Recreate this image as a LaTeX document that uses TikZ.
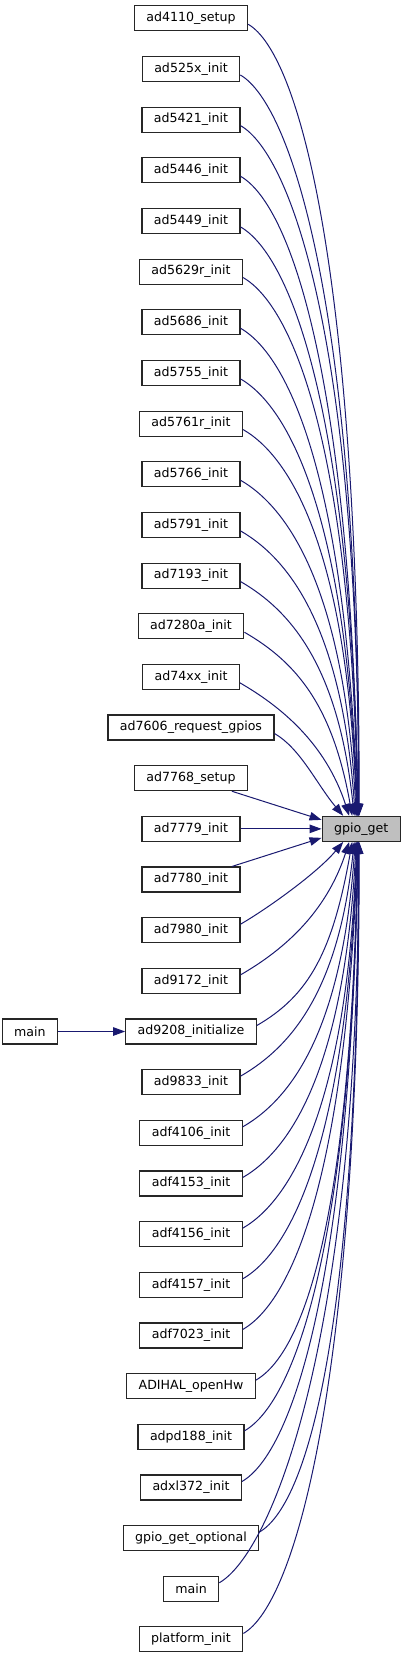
\documentclass[tikz,border=0pt]{standalone}
\usepackage{fontspec}
\setmainfont{DejaVu Sans}
\usepackage{xcolor}
\usepackage{tikz}
\usetikzlibrary{arrows.meta,positioning}
\definecolor{callblue}{RGB}{25,25,112}
\definecolor{curgrey}{RGB}{191,191,191}
\tikzset{
  fnbox/.style={draw=black!85, line width=1.1pt, fill=white, minimum height=25pt, inner xsep=12pt, inner ysep=2pt},
  curbox/.style={fnbox, fill=curgrey},
  call/.style={-{Triangle[length=12pt,width=8.5pt]}, callblue, line width=1pt},
}

\begin{document}
\begin{tikzpicture}[font=\fontsize{12.6}{15}\selectfont, node distance=24.56pt]
  \useasboundingbox (0,0) rectangle (405pt,-1659pt);
  \node[fnbox] (ad4110) at (191pt,-18.3pt) {ad4110\_setup};
  \node[fnbox, below=of ad4110] (ad525x) {ad525x\_init};
  \node[fnbox, below=of ad525x] (ad5421) {ad5421\_init};
  \node[fnbox, below=of ad5421] (ad5446) {ad5446\_init};
  \node[fnbox, below=of ad5446] (ad5449) {ad5449\_init};
  \node[fnbox, below=of ad5449] (ad5629r) {ad5629r\_init};
  \node[fnbox, below=of ad5629r] (ad5686) {ad5686\_init};
  \node[fnbox, below=of ad5686] (ad5755) {ad5755\_init};
  \node[fnbox, below=of ad5755] (ad5761r) {ad5761r\_init};
  \node[fnbox, below=of ad5761r] (ad5766) {ad5766\_init};
  \node[fnbox, below=of ad5766] (ad5791) {ad5791\_init};
  \node[fnbox, below=of ad5791] (ad7193) {ad7193\_init};
  \node[fnbox, below=of ad7193] (ad7280a) {ad7280a\_init};
  \node[fnbox, below=of ad7280a] (ad74xx) {ad74xx\_init};
  \node[fnbox, below=of ad74xx] (ad7606) {ad7606\_request\_gpios};
  \node[fnbox, below=of ad7606] (ad7768) {ad7768\_setup};
  \node[fnbox, below=of ad7768] (ad7779) {ad7779\_init};
  \node[fnbox, below=of ad7779] (ad7780) {ad7780\_init};
  \node[fnbox, below=of ad7780] (ad7980) {ad7980\_init};
  \node[fnbox, below=of ad7980] (ad9172) {ad9172\_init};
  \node[fnbox, below=of ad9172] (ad9208) {ad9208\_initialize};
  \node[fnbox, below=of ad9208] (ad9833) {ad9833\_init};
  \node[fnbox, below=of ad9833] (adf4106) {adf4106\_init};
  \node[fnbox, below=of adf4106] (adf4153) {adf4153\_init};
  \node[fnbox, below=of adf4153] (adf4156) {adf4156\_init};
  \node[fnbox, below=of adf4156] (adf4157) {adf4157\_init};
  \node[fnbox, below=of adf4157] (adf7023) {adf7023\_init};
  \node[fnbox, below=of adf7023] (adihal) {ADIHAL\_openHw};
  \node[fnbox, below=of adihal] (adpd188) {adpd188\_init};
  \node[fnbox, below=of adpd188] (adxl372) {adxl372\_init};
  \node[fnbox, below=of adxl372] (optional) {gpio\_get\_optional};
  \node[fnbox, below=of optional] (mainc) {main};
  \node[fnbox, below=of mainc] (platform) {platform\_init};
  \node[curbox] (gpio) at (361.2pt,0 |- ad7779) {gpio\_get};
  \node[fnbox, left=67pt of ad9208] (mainr) {main};

  % callers above gpio_get
  \draw[call] ([yshift=-6pt]ad4110.east) to[out=-30, in=90, out distance=60pt, in distance=538pt] ([xshift=-2pt]gpio.north);
  \draw[call] ([yshift=-6pt]ad525x.east) to[out=-30, in=90, out distance=60pt, in distance=502pt] ([xshift=-2.5pt]gpio.north);
  \draw[call] ([yshift=-6pt]ad5421.east) to[out=-30, in=90, out distance=60pt, in distance=467pt] ([xshift=-2.5pt]gpio.north);
  \draw[call] ([yshift=-6pt]ad5446.east) to[out=-30, in=91, out distance=60pt, in distance=431pt] ([xshift=-3pt]gpio.north);
  \draw[call] ([yshift=-6pt]ad5449.east) to[out=-30, in=91, out distance=60pt, in distance=396pt] ([xshift=-3pt]gpio.north);
  \draw[call] ([yshift=-6pt]ad5629r.east) to[out=-30, in=91, out distance=60pt, in distance=360pt] ([xshift=-3.5pt]gpio.north);
  \draw[call] ([yshift=-6pt]ad5686.east) to[out=-30, in=92, out distance=60pt, in distance=325pt] ([xshift=-3.5pt]gpio.north);
  \draw[call] ([yshift=-6pt]ad5755.east) to[out=-30, in=92, out distance=60pt, in distance=289pt] ([xshift=-4pt]gpio.north);
  \draw[call] ([yshift=-6pt]ad5761r.east) to[out=-30, in=92, out distance=60pt, in distance=254pt] ([xshift=-4.5pt]gpio.north);
  \draw[call] ([yshift=-6pt]ad5766.east) to[out=-30, in=93, out distance=60pt, in distance=218pt] ([xshift=-5pt]gpio.north);
  \draw[call] ([yshift=-6pt]ad5791.east) to[out=-30, in=94, out distance=60pt, in distance=183pt] ([xshift=-6pt]gpio.north);
  \draw[call] ([yshift=-6pt]ad7193.east) to[out=-30, in=96, out distance=60pt, in distance=148pt] ([xshift=-7pt]gpio.north);
  \draw[call] ([yshift=-6pt]ad7280a.east) to[out=-30, in=100, out distance=60pt, in distance=112pt] ([xshift=-9pt]gpio.north);
  \draw[call] ([yshift=-6pt]ad74xx.east) to[out=-30, in=108, out distance=46pt, in distance=77pt] ([xshift=-12pt]gpio.north);
  \draw[call] ([yshift=-6pt]ad7606.east) to[out=-30, in=130, out distance=30pt, in distance=41pt] ([xshift=-18pt]gpio.north);
  % callers level with gpio_get
  \draw[call] (ad7768) -- ([yshift=9pt]gpio.west);
  \draw[call] (ad7779) -- (gpio);
  \draw[call] (ad7780) -- ([yshift=-9pt]gpio.west);
  % callers below gpio_get
  \draw[call] ([yshift=6pt]ad7980.east) to[out=30, in=-130, out distance=30pt, in distance=41pt] ([xshift=-18pt]gpio.south);
  \draw[call] ([yshift=6pt]ad9172.east) to[out=30, in=-108, out distance=46pt, in distance=77pt] ([xshift=-12pt]gpio.south);
  \draw[call] ([yshift=6pt]ad9208.east) to[out=30, in=-100, out distance=60pt, in distance=112pt] ([xshift=-9pt]gpio.south);
  \draw[call] ([yshift=6pt]ad9833.east) to[out=30, in=-96, out distance=60pt, in distance=148pt] ([xshift=-7pt]gpio.south);
  \draw[call] ([yshift=6pt]adf4106.east) to[out=30, in=-94, out distance=60pt, in distance=183pt] ([xshift=-6pt]gpio.south);
  \draw[call] ([yshift=6pt]adf4153.east) to[out=30, in=-93, out distance=60pt, in distance=218pt] ([xshift=-5pt]gpio.south);
  \draw[call] ([yshift=6pt]adf4156.east) to[out=30, in=-92, out distance=60pt, in distance=254pt] ([xshift=-4.5pt]gpio.south);
  \draw[call] ([yshift=6pt]adf4157.east) to[out=30, in=-92, out distance=60pt, in distance=289pt] ([xshift=-4pt]gpio.south);
  \draw[call] ([yshift=6pt]adf7023.east) to[out=30, in=-92, out distance=60pt, in distance=325pt] ([xshift=-3.5pt]gpio.south);
  \draw[call] ([yshift=6pt]adihal.east) to[out=30, in=-91, out distance=60pt, in distance=360pt] ([xshift=-3.5pt]gpio.south);
  \draw[call] ([yshift=6pt]adpd188.east) to[out=30, in=-91, out distance=60pt, in distance=396pt] ([xshift=-3pt]gpio.south);
  \draw[call] ([yshift=6pt]adxl372.east) to[out=30, in=-91, out distance=60pt, in distance=431pt] ([xshift=-3pt]gpio.south);
  \draw[call] ([yshift=6pt]optional.east) to[out=30, in=-90, out distance=60pt, in distance=467pt] ([xshift=-2.5pt]gpio.south);
  \draw[call] ([yshift=6pt]mainc.east) to[out=30, in=-90, out distance=60pt, in distance=502pt] ([xshift=-2.5pt]gpio.south);
  \draw[call] ([yshift=6pt]platform.east) to[out=30, in=-90, out distance=60pt, in distance=538pt] ([xshift=-2pt]gpio.south);
  % main -> ad9208_initialize
  \draw[call] (mainr) -- (ad9208);
\end{tikzpicture}
\end{document}
